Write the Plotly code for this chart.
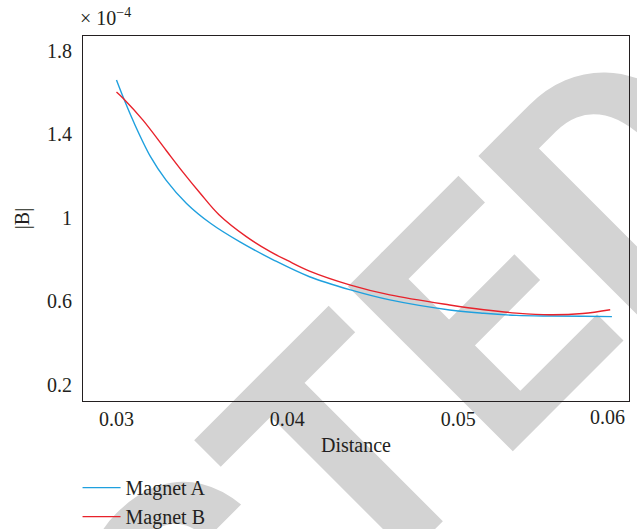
import plotly.graph_objects as go

# ---- data (|B| in units of 1e-4) ----
dist_a = [0.0300, 0.0304, 0.0310, 0.0320, 0.0329, 0.0341, 0.0355, 0.0372, 0.0392,
          0.0413, 0.0437, 0.0460, 0.0495, 0.0515, 0.0534, 0.0554, 0.0573, 0.0590]
b_a = [1.660, 1.576, 1.460, 1.292, 1.181, 1.069, 0.974, 0.886, 0.798,
       0.718, 0.655, 0.607, 0.559, 0.543, 0.533, 0.530, 0.529, 0.527]

dist_b = [0.0300, 0.0304, 0.03155, 0.0329, 0.0339, 0.0349, 0.0360, 0.0376, 0.0390, 0.0400,
          0.0413, 0.0437, 0.0460, 0.0495, 0.0515, 0.0534, 0.0554, 0.0573, 0.0589]
b_b = [1.603, 1.572, 1.468, 1.324, 1.218, 1.118, 1.015, 0.910, 0.838, 0.796,
       0.745, 0.678, 0.631, 0.583, 0.560, 0.544, 0.536, 0.542, 0.560]

series_names = ["Magnet A", "Magnet B"]
x_tick_vals = [0.03, 0.04, 0.05]
x_last_tick = 0.06
y_tick_vals = [0.2, 0.6, 1.0, 1.4, 1.8]
y_tick_text = ["0.2", "0.6", "1", "1.4", "1.8"]

SERIF = "Liberation Serif, Times New Roman, serif"
INK = "#231f20"

fig = go.Figure()
fig.add_trace(go.Scatter(x=dist_a, y=b_a, mode="lines", name=series_names[0],
                         line=dict(color="#1fa0de", width=1.4, shape="spline", smoothing=1.0)))
fig.add_trace(go.Scatter(x=dist_b, y=b_b, mode="lines", name=series_names[1],
                         line=dict(color="#e8222b", width=1.4, shape="spline", smoothing=1.0)))

fig.update_layout(
    width=637, height=529,
    margin=dict(l=83, r=8, t=36, b=128, autoexpand=False),
    paper_bgcolor="white", plot_bgcolor="white",
    font=dict(family=SERIF, size=20, color=INK),
    showlegend=True,
    legend=dict(x=-0.01, xanchor="left", y=-0.184, yanchor="top",
                bgcolor="rgba(0,0,0,0)", font=dict(family=SERIF, size=20, color=INK),
                itemwidth=38, tracegroupgap=0),
    xaxis=dict(range=[0.02804, 0.0600], showline=True, mirror=True, linecolor=INK, linewidth=1,
               showgrid=False, zeroline=False, ticks="", tickvals=x_tick_vals,
               ticktext=[f"{v:.2f}" for v in x_tick_vals], ticklabelstandoff=0,
               title=dict(text="Distance", font=dict(family=SERIF, size=20, color=INK), standoff=8)),
    yaxis=dict(range=[0.123, 1.871], showline=True, mirror=True, linecolor=INK, linewidth=1,
               showgrid=False, zeroline=False, ticks="", tickvals=y_tick_vals,
               ticktext=y_tick_text, ticklabelstandoff=6,
               title=dict(text="|B|", font=dict(family=SERIF, size=20, color=INK), standoff=12)),
)

# last x tick label, nudged inside the canvas as in the original
fig.add_annotation(x=x_last_tick, xref="x", y=0, yref="paper", yanchor="top",
                   text=f"{x_last_tick:.2f}", showarrow=False, xshift=-22, yshift=-3,
                   font=dict(family=SERIF, size=20, color=INK))
# exponent of the y axis
fig.add_annotation(x=0, xref="paper", y=1, yref="paper", xanchor="left", yanchor="bottom",
                   text="× 10<sup>−4</sup>", showarrow=False, xshift=-5, yshift=5,
                   font=dict(family=SERIF, size=20, color=INK))

# watermark stamp behind the data
fig.add_shape(type="rect", xref="paper", yref="paper", x0=-0.093, x1=-0.091, y0=-0.927, y1=-0.925,
              layer="below", line=dict(width=0), fillcolor="rgba(0,0,0,0)",
              label=dict(text="<b>RETRACTED</b>", textangle=-45, textposition="middle center",
                         font=dict(family="Roboto", size=328, color="#d3d3d3")))

fig.write_html("out.html", config={"displayModeBar": False},
               post_script="document.body.style.margin='0';document.body.style.overflow='hidden';")
